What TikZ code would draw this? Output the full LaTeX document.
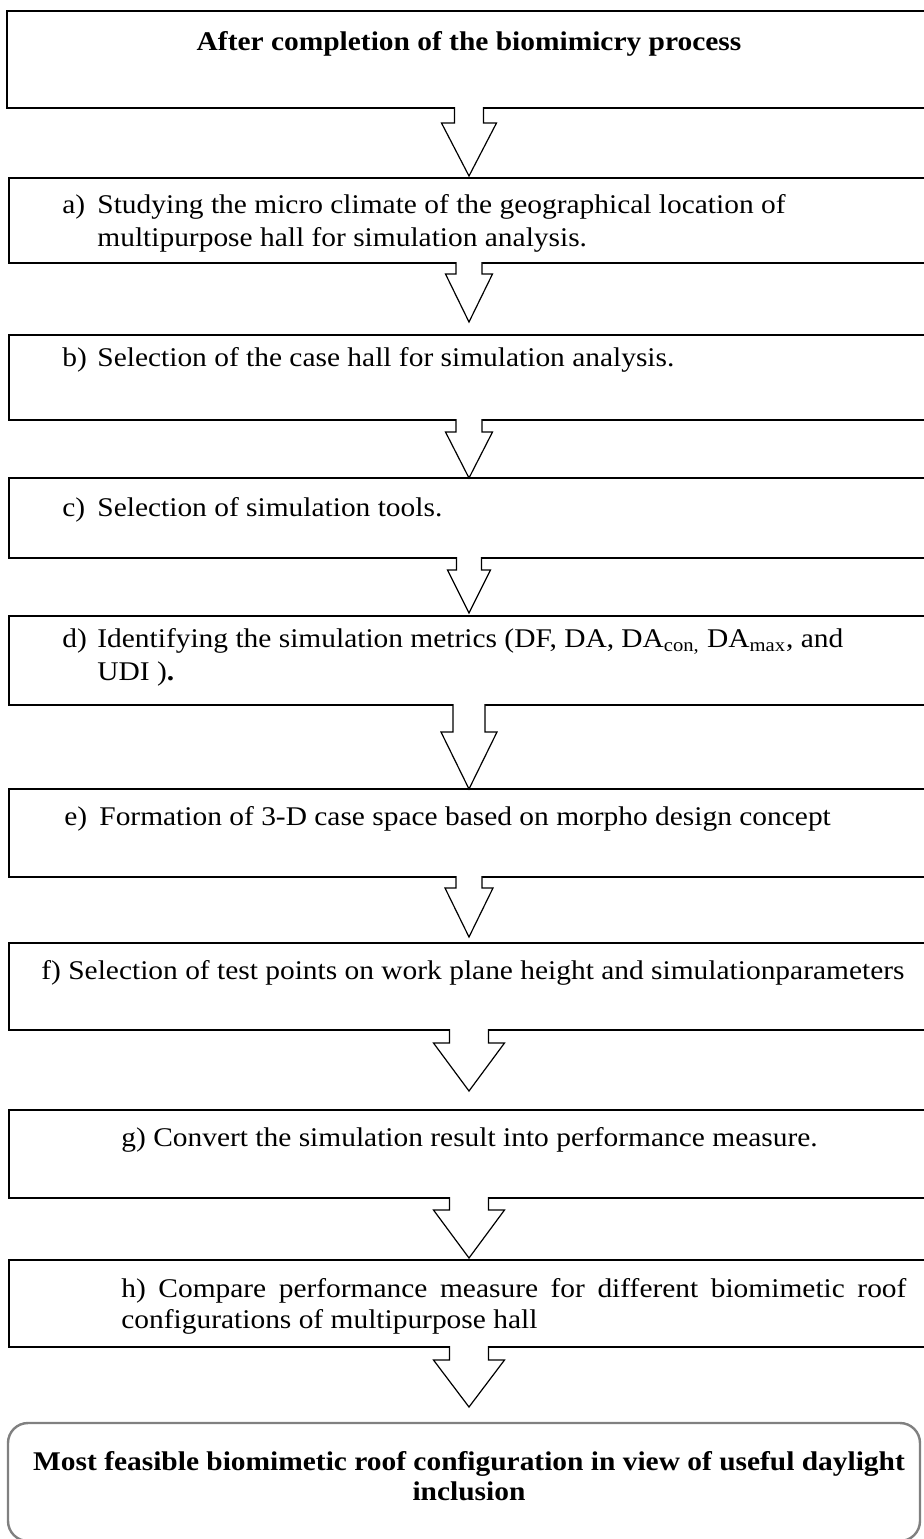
\documentclass[tikz,border=0pt]{standalone}
\usepackage{fontspec}
\setmainfont{Liberation Serif}[FakeStretch=1.09]
\usetikzlibrary{calc,fit}

% lettered step: label, then the text hanging beside it
\newcommand{\stepitem}[2]{\makebox[17.5pt][l]{#1}\parbox[t]{410pt}{\raggedright #2}}

% hollow block arrow between two boxes:
% from, to, shaft half width, head half width, shaft length, gap above target
\newcommand{\flowarrow}[6]{%
  \draw[arrowbody] ($(#1.south -| axis)+(-#3,-1)$) -- ($(#1.south -| axis)+(-#3,#5)$)
    -- ($(#1.south -| axis)+(-#4,#5)$) -- ($(#2.north -| axis)+(0,-#6)$)
    -- ($(#1.south -| axis)+(#4,#5)$) -- ($(#1.south -| axis)+(#3,#5)$)
    -- ($(#1.south -| axis)+(#3,-1)$);}

\begin{document}
\begin{tikzpicture}[x=0.5pt, y=-0.5pt]

% Define styles
\tikzstyle{stepbox} = [draw, line width=0.7pt, inner sep=0pt, outer sep=0pt]
\tikzstyle{steptext} = [anchor=base west, inner sep=0pt, align=left, font=\fontsize{13.5}{16.5}\selectfont]
\tikzstyle{headtext} = [anchor=base, inner sep=0pt, align=center, font=\fontsize{13.5}{15}\selectfont\bfseries]
\tikzstyle{arrowbody} = [draw, fill=white, line width=0.6pt, line join=miter]

\useasboundingbox (0,0) rectangle (923,1539);
\coordinate (axis) at (469,0);

% Boxes
\node[stepbox, fit={(7,11) (930,108)}] (start) {};
\node[stepbox, fit={(9,178) (930,263)}] (climate) {};
\node[stepbox, fit={(9,335) (930,420)}] (hall) {};
\node[stepbox, fit={(9,478) (930,558)}] (tools) {};
\node[stepbox, fit={(9,616) (930,705)}] (metrics) {};
\node[stepbox, fit={(9,789) (930,877)}] (model) {};
\node[stepbox, fit={(9,943) (930,1030)}] (points) {};
\node[stepbox, fit={(9,1110) (930,1198)}] (convert) {};
\node[stepbox, fit={(9,1260) (930,1347)}] (compare) {};
\node[stepbox, draw=gray, line width=1.2pt, rounded corners=10pt, fit={(8,1423) (920,1541)}] (result) {};

% Texts
\node[headtext] (starttext) at (469,50) {After completion of the biomimicry process};
\node[steptext] (climatetext) at (62,213)
  {\stepitem{a)}{Studying the micro climate of the geographical location of\newline multipurpose hall for simulation analysis.}};
\node[steptext] (halltext) at (62,366)
  {\stepitem{b)}{Selection of the case hall for simulation analysis.}};
\node[steptext] (toolstext) at (62,516)
  {\stepitem{c)}{Selection of simulation tools.}};
\node[steptext] (metricstext) at (62,647)
  {\stepitem{d)}{Identifying the simulation metrics (DF, DA, DA\textsubscript{con,} DA\textsubscript{max}, and\newline UDI )\textbf{.}}};
\node[steptext] (modeltext) at (64,825)
  {\stepitem{e)}{Formation of 3-D case space based on morpho design concept}};
\node[steptext] (pointstext) at (41,979) {f) Selection of test points on work plane height and simulationparameters};
\node[steptext] (converttext) at (121,1146) {g) Convert the simulation result into performance measure.};
\node[steptext, text width=392.5pt, align=justify, font=\fontsize{13.5}{15.5}\selectfont] (comparetext) at (121,1297)
  {h) Compare performance measure for different biomimetic roof\linebreak configurations of multipurpose hall};
\node[headtext] (resulttext) at (469,1500) {Most feasible biomimetic roof configuration in view of useful daylight\\ inclusion};

% Arrows
\flowarrow{start}{climate}{14.5}{27.5}{15}{2}
\flowarrow{climate}{hall}{13}{23.5}{11}{13}
\flowarrow{hall}{tools}{13}{23.5}{12}{0}
\flowarrow{tools}{metrics}{12.5}{21.5}{12}{3}
\flowarrow{metrics}{model}{16}{28}{27}{0}
\flowarrow{model}{points}{13}{24}{11}{6}
\flowarrow{points}{convert}{19.5}{35.5}{13}{19}
\flowarrow{convert}{compare}{19.5}{35.5}{12}{2}
\flowarrow{compare}{result}{19.5}{35.5}{13}{16}

\end{tikzpicture}
\end{document}
